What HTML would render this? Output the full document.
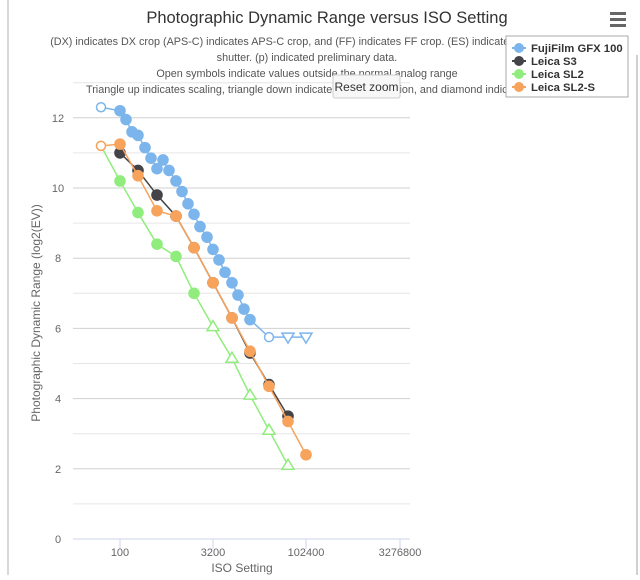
<!DOCTYPE html>
<html><head><meta charset="utf-8"><style>
body{margin:0;background:#fff;width:640px;height:575px;overflow:hidden;font-family:"Liberation Sans",sans-serif}
</style></head><body>
<svg id="s" width="640" height="575" xmlns="http://www.w3.org/2000/svg" font-family="Liberation Sans, sans-serif">
<rect x="0" y="0" width="640" height="575" fill="#fff"/>
<line x1="8" y1="0" x2="8" y2="575" stroke="#d8d8d8" stroke-width="2"/>
<line x1="637" y1="55" x2="637" y2="575" stroke="#d0d0d0" stroke-width="2"/>
<g id="grid"></g>
<text x="327" y="23" font-size="16.5" text-anchor="middle" fill="#333">Photographic Dynamic Range versus ISO Setting</text>
<g font-size="10.8" fill="#555" text-anchor="middle">
<text x="307" y="45">(DX) indicates DX crop (APS-C) indicates APS-C crop, and (FF) indicates FF crop. (ES) indicates electronic</text>
<text x="307" y="61">shutter. (p) indicated preliminary data.</text>
<text x="307" y="77">Open symbols indicate values outside the normal analog range</text>
<text x="307" y="93">Triangle up indicates scaling, triangle down indicates noise reduction, and diamond indicates</text>
</g>
<rect x="333" y="75" width="67" height="23" rx="2" fill="#f7f7f7" stroke="#ccc"/>
<text x="366.5" y="91" font-size="12" text-anchor="middle" fill="#333">Reset zoom</text>
<g fill="#666"><rect x="610" y="12" width="16" height="3"/><rect x="610" y="18" width="16" height="3"/><rect x="610" y="24" width="16" height="3"/></g>
<g id="series"></g>
<rect x="506" y="36" width="122" height="61" fill="#fff" stroke="#aaa"/>
<g font-size="11.3" font-weight="bold" fill="#333">
<line x1="512" y1="48" x2="526" y2="48" stroke="#7cb5ec" stroke-width="2"/><circle cx="519" cy="48" r="5" fill="#7cb5ec"/><text x="531" y="52">FujiFilm GFX 100</text>
<line x1="512" y1="61" x2="526" y2="61" stroke="#434348" stroke-width="2"/><circle cx="519" cy="61" r="5" fill="#434348"/><text x="531" y="65">Leica S3</text>
<line x1="512" y1="74" x2="526" y2="74" stroke="#90ed7d" stroke-width="2"/><circle cx="519" cy="74" r="5" fill="#90ed7d"/><text x="531" y="78">Leica SL2</text>
<line x1="512" y1="87" x2="526" y2="87" stroke="#f7a35c" stroke-width="2"/><circle cx="519" cy="87" r="5" fill="#f7a35c"/><text x="531" y="91">Leica SL2-S</text>
</g>
<text x="242" y="572" font-size="12" text-anchor="middle" fill="#666">ISO Setting</text>
<text transform="translate(40,313) rotate(-90)" font-size="12" text-anchor="middle" fill="#666">Photographic Dynamic Range (log2(EV))</text>
</svg>
<script>
var NS="http://www.w3.org/2000/svg";
function el(p,t,a){var e=document.createElementNS(NS,t);for(var k in a)e.setAttribute(k,a[k]);p.appendChild(e);return e;}
var g=document.getElementById('grid'),s=document.getElementById('series');
function Y(v){return 539-35.1*v;}
for(var v=1;v<=13;v++){el(g,'line',{x1:73,x2:410,y1:Y(v),y2:Y(v),stroke:v%2?'#e6e6e6':'#d0d0d0','stroke-width':1});}
el(g,'line',{x1:73,x2:410,y1:539,y2:539,stroke:'#ccd6eb','stroke-width':1});
[[120,'100'],[213,'3200'],[306,'102400'],[400,'3276800']].forEach(function(t){
el(g,'line',{x1:t[0],x2:t[0],y1:539,y2:549,stroke:'#ccd6eb'});
var tx=el(g,'text',{x:t[0],y:556,'font-size':11,'text-anchor':'middle',fill:'#666'});tx.textContent=t[1];});
for(var v=0;v<=12;v+=2){var tx=el(g,'text',{x:58,y:Y(v)+4,'font-size':11,'text-anchor':'middle',fill:'#666'});tx.textContent=v;}
function series(c,pts){
el(s,'polyline',{points:pts.map(function(p){return p[0]+','+Y(p[1])}).join(' '),fill:'none',stroke:c,'stroke-width':1.5});
pts.forEach(function(p){var x=p[0],y=Y(p[1]),m=p[2]||'c';
if(m=='c')el(s,'circle',{cx:x,cy:y,r:5.8,fill:c});
else if(m=='o')el(s,'circle',{cx:x,cy:y,r:4.5,fill:'#fff',stroke:c,'stroke-width':1.5});
else if(m=='u')el(s,'path',{d:'M'+x+','+(y-6)+'L'+(x+6)+','+(y+4)+'L'+(x-6)+','+(y+4)+'Z',fill:'#fff',stroke:c,'stroke-width':1.5});
else if(m=='d')el(s,'path',{d:'M'+x+','+(y+6)+'L'+(x+6)+','+(y-4)+'L'+(x-6)+','+(y-4)+'Z',fill:'#fff',stroke:c,'stroke-width':1.5});});}
series('#90ed7d',[[101,11.2,'o'],[120,10.2],[138,9.3],[157,8.4],[176,8.05],[194,7.0],[213,6.05,'u'],[232,5.15,'u'],[250,4.1,'u'],[269,3.1,'u'],[288,2.1,'u']]);
series('#434348',[[120,11.0],[138,10.5],[157,9.8],[176,9.2],[194,8.3],[213,7.3],[232,6.3],[250,5.3],[269,4.4],[288,3.5]]);
series('#f7a35c',[[101,11.2,'o'],[120,11.25],[138,10.35],[157,9.35],[176,9.2],[194,8.3],[213,7.3],[232,6.3],[250,5.35],[269,4.35],[288,3.35],[306,2.4]]);
series('#7cb5ec',[[101,12.3,'o'],[120,12.2],[126,11.95],[132,11.6],[138,11.5],[145,11.15],[151,10.85],[157,10.55],[163,10.8],[169,10.5],[176,10.2],[182,9.9],[188,9.55],[194,9.25],[200,8.9],[207,8.6],[213,8.25],[219,7.95],[225,7.6],[232,7.3],[238,6.95],[244,6.55],[250,6.25],[269,5.75,'o'],[288,5.75,'d'],[306,5.75,'d']]);
</script>
</body></html>
